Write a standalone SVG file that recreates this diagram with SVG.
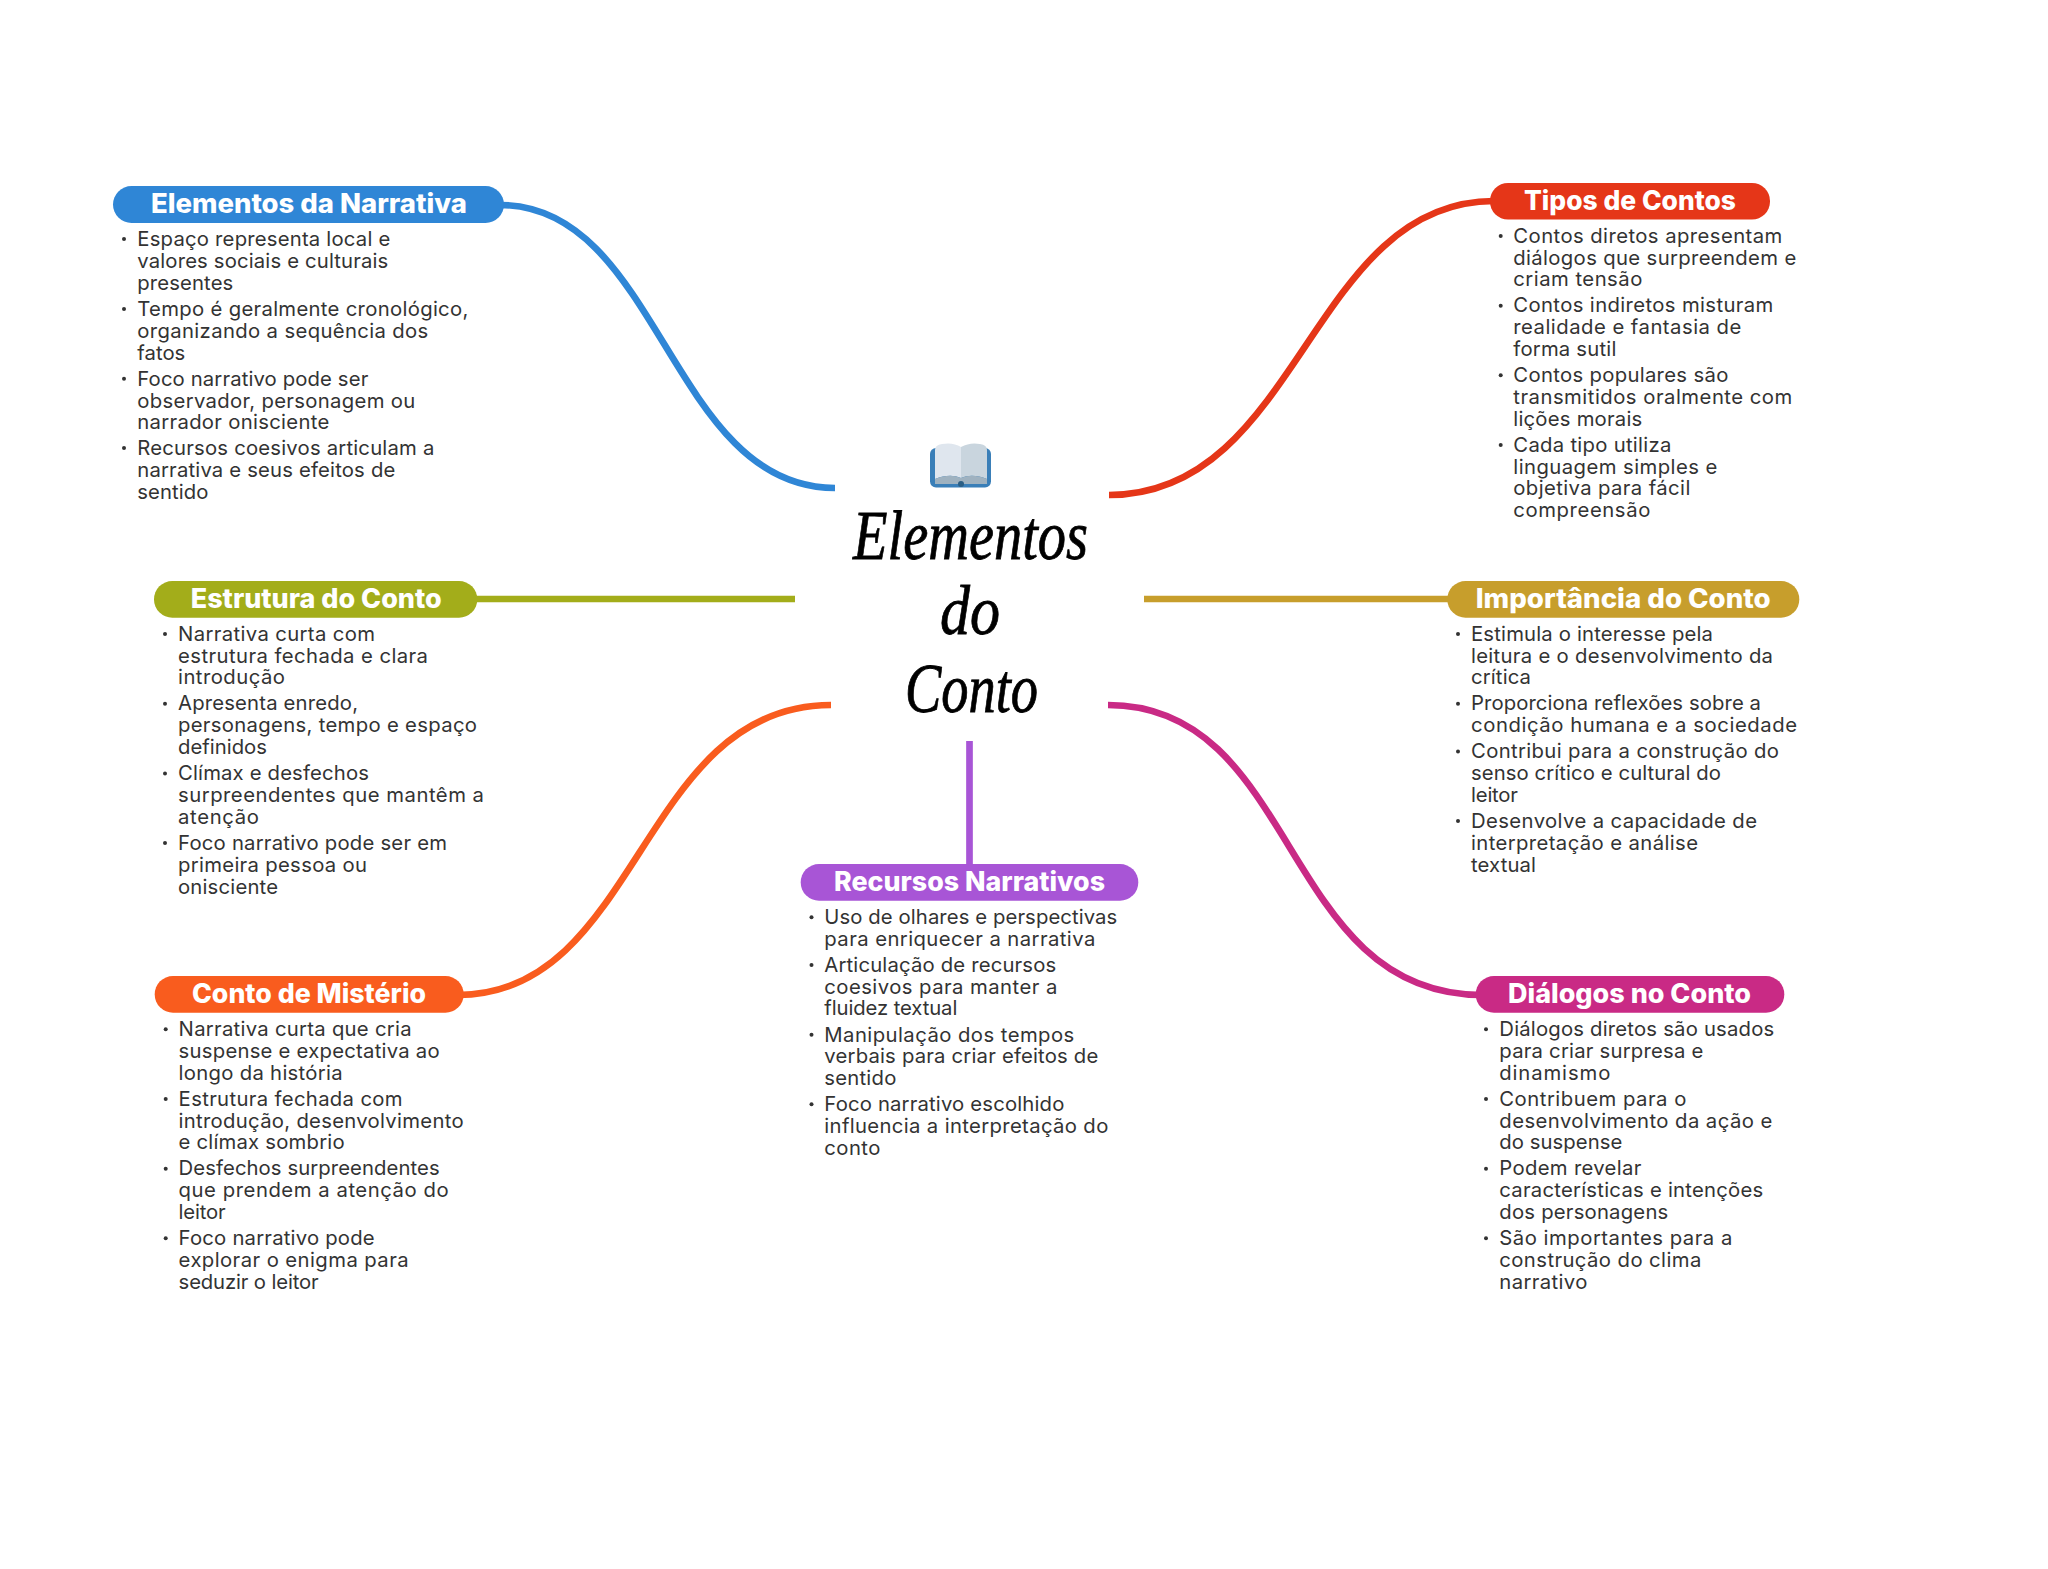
<svg xmlns="http://www.w3.org/2000/svg" width="2048" height="1569" viewBox="0 0 2048 1569">
<style>
.c{fill:none;stroke-width:6.7}
.p{stroke:none}
.h{font-family:"Inter","Liberation Sans",sans-serif;font-weight:800;font-size:26.500px;fill:#fff;transform:translateY(.8px)}
.b{font-family:"Inter","Liberation Sans",sans-serif;font-size:20.300px;fill:#333;transform:translateX(-.7px)}
.d{fill:#333}
.t{font-family:"Liberation Serif",serif;font-style:italic;font-size:70px;fill:#000;stroke:#000;stroke-width:.8;transform:translateY(2px)}
</style>
<rect width="2048" height="1569" fill="#fff"/>
<g id="connectors">
<path class="c" stroke="#2f86d6" d="M500 205C660 205 670 488 835 488"/>
<path class="c" stroke="#e53618" d="M1494 201C1310 201 1300 495 1109 495"/>
<line class="c" stroke="#a3ad1a" x1="470" y1="599" x2="795" y2="599"/>
<line class="c" stroke="#c79e2c" x1="1144" y1="599" x2="1455" y2="599"/>
<path class="c" stroke="#f95c1e" d="M458 995C640 995 640 705 831 705"/>
<path class="c" stroke="#c92a85" d="M1482 995C1280 995 1300 705 1108 705"/>
<line class="c" stroke="#a855d6" x1="969.5" y1="741" x2="969.5" y2="870"/>
</g>
<g id="center">
<g id="book">
<rect x="930" y="448" width="61" height="39.500" rx="6" fill="#3a7fb8"/>
<path d="M935 450Q935 445 942 444Q953 442 961 447L961 478Q950 473 935 479Z" fill="#dfe6ee"/>
<path d="M961 447Q970 442 980 444Q987 445 987 450L987 479Q972 473 961 478Z" fill="#c9d5de"/>
<path d="M935 479Q950 473 961 478Q972 473 987 479L987 484L935 484Z" fill="#9fb2c0"/>
<circle cx="961" cy="484" r="3" fill="#2b5f85"/>
</g>
<text class="t" x="853" y="557" textLength="235" lengthAdjust="spacingAndGlyphs">Elementos</text>
<text class="t" x="940" y="632" textLength="60" lengthAdjust="spacingAndGlyphs">do</text>
<text class="t" x="905" y="710" textLength="133" lengthAdjust="spacingAndGlyphs">Conto</text>
</g>
<g id="elementos-da-narrativa">
<rect class="p" fill="#2f86d6" x="113" y="186" width="391" height="37" rx="18.500"/>
<text class="h" x="151" y="212.700" textLength="316" lengthAdjust="spacingAndGlyphs">Elementos da Narrativa</text>
<circle class="d" cx="124" cy="239" r="2"/><circle class="d" cx="124" cy="309" r="2"/><circle class="d" cx="124" cy="378.700" r="2"/><circle class="d" cx="124" cy="448" r="2"/>
<text class="b" x="138" y="246" textLength="253">Espaço representa local e</text>
<text class="b" x="138" y="267.800" textLength="251">valores sociais e culturais</text>
<text class="b" x="138" y="289.600" textLength="96">presentes</text>
<text class="b" x="138" y="316" textLength="331">Tempo é geralmente cronológico,</text>
<text class="b" x="138" y="337.800" textLength="291">organizando a sequência dos</text>
<text class="b" x="138" y="359.600" textLength="48">fatos</text>
<text class="b" x="138" y="385.700" textLength="231">Foco narrativo pode ser</text>
<text class="b" x="138" y="407.500" textLength="278">observador, personagem ou</text>
<text class="b" x="138" y="429.300" textLength="192">narrador onisciente</text>
<text class="b" x="138" y="455" textLength="297">Recursos coesivos articulam a</text>
<text class="b" x="138" y="476.800" textLength="258">narrativa e seus efeitos de</text>
<text class="b" x="138" y="498.600" textLength="71">sentido</text>
</g>
<g id="tipos-de-contos">
<rect class="p" fill="#e53618" x="1490" y="183" width="280" height="36.500" rx="18"/>
<text class="h" x="1524" y="209" textLength="212" lengthAdjust="spacingAndGlyphs">Tipos de Contos</text>
<circle class="d" cx="1500.700" cy="236" r="2"/><circle class="d" cx="1500.700" cy="305.700" r="2"/><circle class="d" cx="1500.700" cy="375.300" r="2"/><circle class="d" cx="1500.700" cy="445" r="2"/>
<text class="b" x="1514" y="242.700" textLength="269">Contos diretos apresentam</text>
<text class="b" x="1514" y="264.500" textLength="283">diálogos que surpreendem e</text>
<text class="b" x="1514" y="286.300" textLength="129">criam tensão</text>
<text class="b" x="1514" y="312.400" textLength="260">Contos indiretos misturam</text>
<text class="b" x="1514" y="334.200" textLength="228">realidade e fantasia de</text>
<text class="b" x="1514" y="356" textLength="103">forma sutil</text>
<text class="b" x="1514" y="382" textLength="215">Contos populares são</text>
<text class="b" x="1514" y="403.800" textLength="279">transmitidos oralmente com</text>
<text class="b" x="1514" y="425.600" textLength="129">lições morais</text>
<text class="b" x="1514" y="451.700" textLength="158">Cada tipo utiliza</text>
<text class="b" x="1514" y="473.500" textLength="204">linguagem simples e</text>
<text class="b" x="1514" y="495.300" textLength="177">objetiva para fácil</text>
<text class="b" x="1514" y="517.100" textLength="137">compreensão</text>
</g>
<g id="estrutura-do-conto">
<rect class="p" fill="#a3ad1a" x="154" y="581" width="323.300" height="36.700" rx="18.300"/>
<text class="h" x="190.700" y="607" textLength="251" lengthAdjust="spacingAndGlyphs">Estrutura do Conto</text>
<circle class="d" cx="165" cy="634" r="2"/><circle class="d" cx="165" cy="703.700" r="2"/><circle class="d" cx="165" cy="773.400" r="2"/><circle class="d" cx="165" cy="843" r="2"/>
<text class="b" x="178.700" y="640.700" textLength="197">Narrativa curta com</text>
<text class="b" x="178.700" y="662.500" textLength="250">estrutura fechada e clara</text>
<text class="b" x="178.700" y="684.300" textLength="107">introdução</text>
<text class="b" x="178.700" y="710.400" textLength="180">Apresenta enredo,</text>
<text class="b" x="178.700" y="732.200" textLength="299">personagens, tempo e espaço</text>
<text class="b" x="178.700" y="754" textLength="89">definidos</text>
<text class="b" x="178.700" y="780.400" textLength="191">Clímax e desfechos</text>
<text class="b" x="178.700" y="802.200" textLength="306">surpreendentes que mantêm a</text>
<text class="b" x="178.700" y="824" textLength="81">atenção</text>
<text class="b" x="178.700" y="850" textLength="269">Foco narrativo pode ser em</text>
<text class="b" x="178.700" y="871.800" textLength="189">primeira pessoa ou</text>
<text class="b" x="178.700" y="893.600" textLength="100">onisciente</text>
</g>
<g id="importancia-do-conto">
<rect class="p" fill="#c79e2c" x="1447.300" y="581" width="352" height="36.700" rx="18.300"/>
<text class="h" x="1475.700" y="607" textLength="295" lengthAdjust="spacingAndGlyphs">Importância do Conto</text>
<circle class="d" cx="1458" cy="634" r="2"/><circle class="d" cx="1458" cy="703.700" r="2"/><circle class="d" cx="1458" cy="751.500" r="2"/><circle class="d" cx="1458" cy="821" r="2"/>
<text class="b" x="1471.700" y="640.700" textLength="242">Estimula o interesse pela</text>
<text class="b" x="1471.700" y="662.500" textLength="302">leitura e o desenvolvimento da</text>
<text class="b" x="1471.700" y="684.300" textLength="60">crítica</text>
<text class="b" x="1471.700" y="710.400" textLength="290">Proporciona reflexões sobre a</text>
<text class="b" x="1471.700" y="732.200" textLength="326">condição humana e a sociedade</text>
<text class="b" x="1471.700" y="758.300" textLength="308">Contribui para a construção do</text>
<text class="b" x="1471.700" y="780.100" textLength="250">senso crítico e cultural do</text>
<text class="b" x="1471.700" y="801.900" textLength="47">leitor</text>
<text class="b" x="1471.700" y="828" textLength="286">Desenvolve a capacidade de</text>
<text class="b" x="1471.700" y="849.800" textLength="227">interpretação e análise</text>
<text class="b" x="1471.700" y="871.600" textLength="65">textual</text>
</g>
<g id="recursos-narrativos">
<rect class="p" fill="#a855d6" x="800.700" y="864" width="337.600" height="36.700" rx="18.300"/>
<text class="h" x="834" y="890.700" textLength="271" lengthAdjust="spacingAndGlyphs">Recursos Narrativos</text>
<circle class="d" cx="811.500" cy="917.300" r="2"/><circle class="d" cx="811.500" cy="965" r="2"/><circle class="d" cx="811.500" cy="1034.800" r="2"/><circle class="d" cx="811.500" cy="1104.300" r="2"/>
<text class="b" x="825" y="924" textLength="293">Uso de olhares e perspectivas</text>
<text class="b" x="825" y="945.800" textLength="271">para enriquecer a narrativa</text>
<text class="b" x="825" y="971.800" textLength="232">Articulação de recursos</text>
<text class="b" x="825" y="993.600" textLength="233">coesivos para manter a</text>
<text class="b" x="825" y="1015.400" textLength="133">fluidez textual</text>
<text class="b" x="825" y="1041.500" textLength="250">Manipulação dos tempos</text>
<text class="b" x="825" y="1063.300" textLength="274">verbais para criar efeitos de</text>
<text class="b" x="825" y="1085.100" textLength="72">sentido</text>
<text class="b" x="825" y="1111" textLength="240">Foco narrativo escolhido</text>
<text class="b" x="825" y="1132.800" textLength="284">influencia a interpretação do</text>
<text class="b" x="825" y="1154.600" textLength="56">conto</text>
</g>
<g id="conto-de-misterio">
<rect class="p" fill="#f95c1e" x="154.700" y="976" width="309" height="36.700" rx="18.300"/>
<text class="h" x="192" y="1002.700" textLength="234" lengthAdjust="spacingAndGlyphs">Conto de Mistério</text>
<circle class="d" cx="165.700" cy="1029.300" r="2"/><circle class="d" cx="165.700" cy="1099" r="2"/><circle class="d" cx="165.700" cy="1168.700" r="2"/><circle class="d" cx="165.700" cy="1238.300" r="2"/>
<text class="b" x="179.300" y="1036" textLength="233">Narrativa curta que cria</text>
<text class="b" x="179.300" y="1057.800" textLength="261">suspense e expectativa ao</text>
<text class="b" x="179.300" y="1079.600" textLength="164">longo da história</text>
<text class="b" x="179.300" y="1105.700" textLength="224">Estrutura fechada com</text>
<text class="b" x="179.300" y="1127.500" textLength="285">introdução, desenvolvimento</text>
<text class="b" x="179.300" y="1149.300" textLength="166">e clímax sombrio</text>
<text class="b" x="179.300" y="1175.400" textLength="261">Desfechos surpreendentes</text>
<text class="b" x="179.300" y="1197.200" textLength="270">que prendem a atenção do</text>
<text class="b" x="179.300" y="1219" textLength="47">leitor</text>
<text class="b" x="179.300" y="1245" textLength="196">Foco narrativo pode</text>
<text class="b" x="179.300" y="1266.800" textLength="230">explorar o enigma para</text>
<text class="b" x="179.300" y="1288.600" textLength="140">seduzir o leitor</text>
</g>
<g id="dialogos-no-conto">
<rect class="p" fill="#c92a85" x="1475.700" y="976" width="308.600" height="36.700" rx="18.300"/>
<text class="h" x="1508" y="1002.700" textLength="243" lengthAdjust="spacingAndGlyphs">Diálogos no Conto</text>
<circle class="d" cx="1486" cy="1029.300" r="2"/><circle class="d" cx="1486" cy="1099" r="2"/><circle class="d" cx="1486" cy="1168.700" r="2"/><circle class="d" cx="1486" cy="1238.300" r="2"/>
<text class="b" x="1500" y="1036" textLength="275">Diálogos diretos são usados</text>
<text class="b" x="1500" y="1057.800" textLength="204">para criar surpresa e</text>
<text class="b" x="1500" y="1079.600" textLength="111">dinamismo</text>
<text class="b" x="1500" y="1105.700" textLength="187">Contribuem para o</text>
<text class="b" x="1500" y="1127.500" textLength="273">desenvolvimento da ação e</text>
<text class="b" x="1500" y="1149.300" textLength="123">do suspense</text>
<text class="b" x="1500" y="1175.400" textLength="142">Podem revelar</text>
<text class="b" x="1500" y="1197.200" textLength="264">características e intenções</text>
<text class="b" x="1500" y="1219" textLength="169">dos personagens</text>
<text class="b" x="1500" y="1245" textLength="233">São importantes para a</text>
<text class="b" x="1500" y="1266.800" textLength="202">construção do clima</text>
<text class="b" x="1500" y="1288.600" textLength="88">narrativo</text>
</g>
</svg>
